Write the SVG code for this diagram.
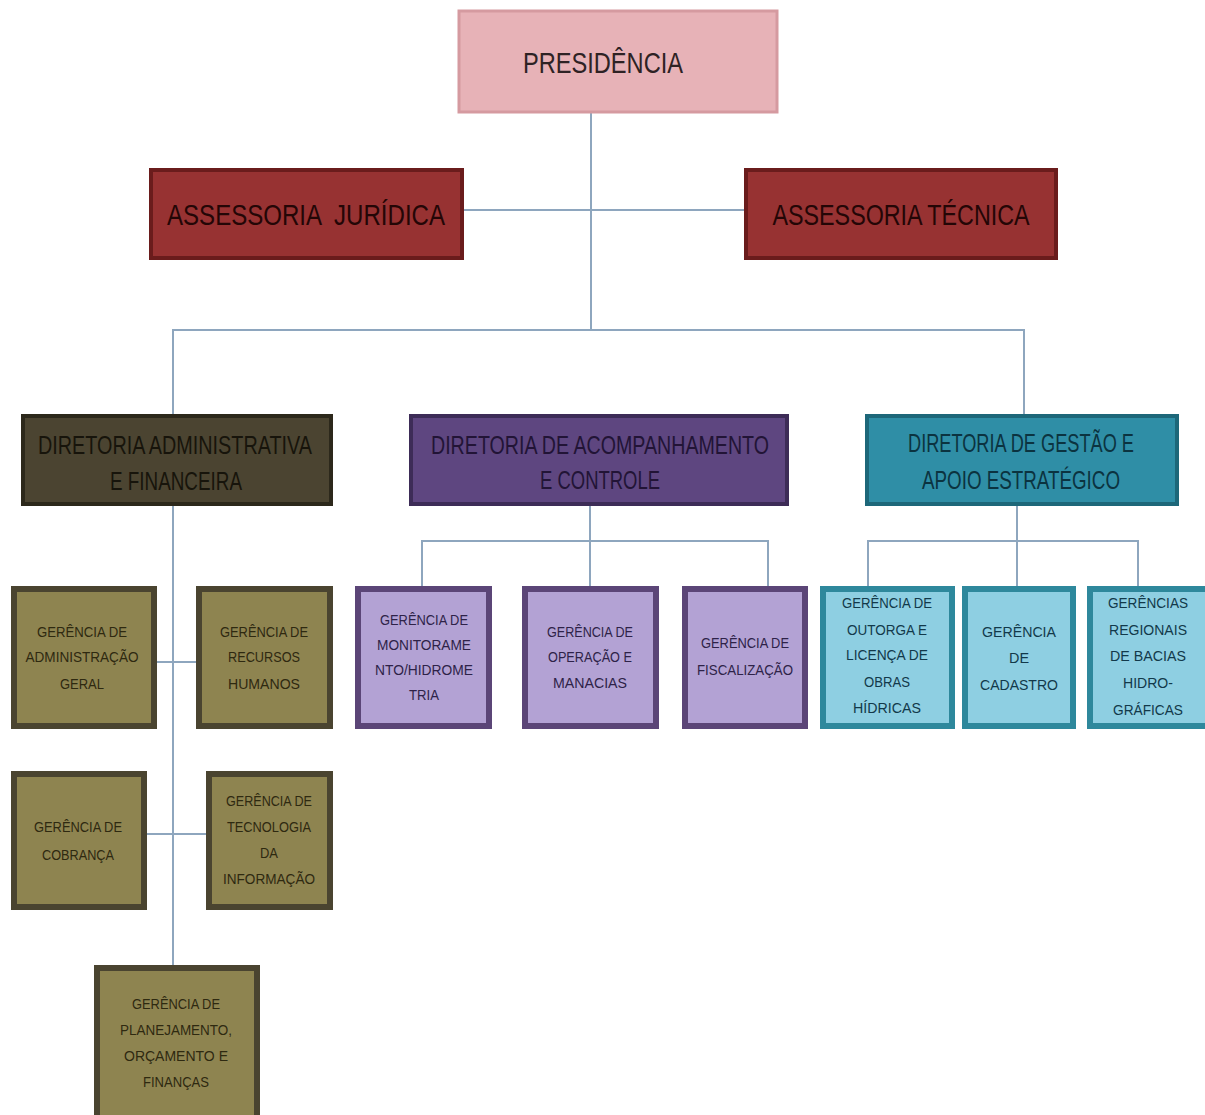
<svg xmlns="http://www.w3.org/2000/svg" width="1205" height="1115" viewBox="0 0 1205 1115">
<style>
text{font-family:"Liberation Sans Narrow","Liberation Sans",Arial,sans-serif;text-anchor:middle}
.con{fill:none;stroke:#8ea6be;stroke-width:2}
.pres{fill:#e7b2b7;stroke:#d59aa0;stroke-width:3}
.ass{fill:#973232;stroke:#6a1c1c;stroke-width:4}
.dadm{fill:#4b4431;stroke:#2c281b;stroke-width:4}
.dacp{fill:#5e4680;stroke:#3d2c57;stroke-width:4}
.dges{fill:#2f8ea6;stroke:#1d6779;stroke-width:4}
.gol{fill:#8e8450;stroke:#4a4430;stroke-width:6}
.gpu{fill:#b3a2d4;stroke:#5b4577;stroke-width:6}
.gbl{fill:#8ecfe2;stroke:#2e889c;stroke-width:6}
.big{font-size:30px}
.dir{font-size:25px}
.sm{font-size:14px}
.tpres{fill:#2e2224}
.tass{fill:#240606}
.tdadm{fill:#17140b}
.tdacp{fill:#221436}
.tdges{fill:#0b3340}
.tol{fill:#2e2910}
.tpu{fill:#2e2248}
.tbl{fill:#12394a}
</style>
<rect width="1205" height="1115" fill="#ffffff"/>
<g id="connectors">
<path class="con" d="M591 113 V330"/>
<path class="con" d="M463 210 H745"/>
<path class="con" d="M173 415 V330 H1024 V415"/>
<path class="con" d="M173 505 V967"/>
<path class="con" d="M155 662 H198"/>
<path class="con" d="M145 834 H207"/>
<path class="con" d="M590 505 V587"/>
<path class="con" d="M422 587 V541 H768 V587"/>
<path class="con" d="M1017 505 V587"/>
<path class="con" d="M868 587 V541 H1138 V587"/>
</g>
<g id="presidencia">
<rect class="pres" x="459" y="11" width="318" height="101"/>
<text class="big tpres" x="603" y="73" textLength="160" lengthAdjust="spacingAndGlyphs">PRESIDÊNCIA</text>
</g>
<g id="assessoria-juridica">
<rect class="ass" x="151" y="170" width="311" height="88"/>
<text class="big tass" x="306" y="225" textLength="278" lengthAdjust="spacingAndGlyphs" xml:space="preserve">ASSESSORIA  JURÍDICA</text>
</g>
<g id="assessoria-tecnica">
<rect class="ass" x="746" y="170" width="310" height="88"/>
<text class="big tass" x="901" y="225" textLength="257" lengthAdjust="spacingAndGlyphs">ASSESSORIA TÉCNICA</text>
</g>
<g id="diretoria-adm">
<rect class="dadm" x="23" y="416" width="308" height="88"/>
<text class="dir tdadm" x="175" y="454" textLength="274" lengthAdjust="spacingAndGlyphs">DIRETORIA ADMINISTRATIVA</text>
<text class="dir tdadm" x="176" y="490" textLength="132" lengthAdjust="spacingAndGlyphs">E FINANCEIRA</text>
</g>
<g id="diretoria-acomp">
<rect class="dacp" x="411" y="416" width="376" height="88"/>
<text class="dir tdacp" x="600" y="454" textLength="338" lengthAdjust="spacingAndGlyphs">DIRETORIA DE ACOMPANHAMENTO</text>
<text class="dir tdacp" x="600" y="489" textLength="120" lengthAdjust="spacingAndGlyphs">E CONTROLE</text>
</g>
<g id="diretoria-gestao">
<rect class="dges" x="867" y="416" width="310" height="88"/>
<text class="dir tdges" x="1021" y="452" textLength="226" lengthAdjust="spacingAndGlyphs">DIRETORIA DE GESTÃO E</text>
<text class="dir tdges" x="1021" y="489" textLength="198" lengthAdjust="spacingAndGlyphs">APOIO ESTRATÉGICO</text>
</g>
<g id="ger-adm-geral">
<rect class="gol" x="14" y="589" width="140" height="137"/>
<text class="sm tol" x="82" y="637" textLength="90" lengthAdjust="spacingAndGlyphs">GERÊNCIA DE</text>
<text class="sm tol" x="82" y="662" textLength="113" lengthAdjust="spacingAndGlyphs">ADMINISTRAÇÃO</text>
<text class="sm tol" x="82" y="689" textLength="44" lengthAdjust="spacingAndGlyphs">GERAL</text>
</g>
<g id="ger-rh">
<rect class="gol" x="199" y="589" width="131" height="137"/>
<text class="sm tol" x="264" y="637" textLength="88" lengthAdjust="spacingAndGlyphs">GERÊNCIA DE</text>
<text class="sm tol" x="264" y="662" textLength="72" lengthAdjust="spacingAndGlyphs">RECURSOS</text>
<text class="sm tol" x="264" y="689" textLength="72" lengthAdjust="spacingAndGlyphs">HUMANOS</text>
</g>
<g id="ger-cobranca">
<rect class="gol" x="14" y="774" width="130" height="133"/>
<text class="sm tol" x="78" y="832" textLength="88" lengthAdjust="spacingAndGlyphs">GERÊNCIA DE</text>
<text class="sm tol" x="78" y="860" textLength="72" lengthAdjust="spacingAndGlyphs">COBRANÇA</text>
</g>
<g id="ger-ti">
<rect class="gol" x="209" y="774" width="121" height="133"/>
<text class="sm tol" x="269" y="806" textLength="86" lengthAdjust="spacingAndGlyphs">GERÊNCIA DE</text>
<text class="sm tol" x="269" y="832" textLength="84" lengthAdjust="spacingAndGlyphs">TECNOLOGIA</text>
<text class="sm tol" x="269" y="858" textLength="18" lengthAdjust="spacingAndGlyphs">DA</text>
<text class="sm tol" x="269" y="884" textLength="92" lengthAdjust="spacingAndGlyphs">INFORMAÇÃO</text>
</g>
<g id="ger-planejamento">
<rect class="gol" x="97" y="968" width="160" height="150"/>
<text class="sm tol" x="176" y="1009" textLength="88" lengthAdjust="spacingAndGlyphs">GERÊNCIA DE</text>
<text class="sm tol" x="176" y="1035" textLength="112" lengthAdjust="spacingAndGlyphs">PLANEJAMENTO,</text>
<text class="sm tol" x="176" y="1061" textLength="104" lengthAdjust="spacingAndGlyphs">ORÇAMENTO E</text>
<text class="sm tol" x="176" y="1087" textLength="66" lengthAdjust="spacingAndGlyphs">FINANÇAS</text>
</g>
<g id="ger-monitoramento">
<rect class="gpu" x="358" y="589" width="131" height="137"/>
<text class="sm tpu" x="424" y="625" textLength="88" lengthAdjust="spacingAndGlyphs">GERÊNCIA DE</text>
<text class="sm tpu" x="424" y="650" textLength="94" lengthAdjust="spacingAndGlyphs">MONITORAME</text>
<text class="sm tpu" x="424" y="675" textLength="98" lengthAdjust="spacingAndGlyphs">NTO/HIDROME</text>
<text class="sm tpu" x="424" y="700" textLength="30" lengthAdjust="spacingAndGlyphs">TRIA</text>
</g>
<g id="ger-operacao">
<rect class="gpu" x="525" y="589" width="131" height="137"/>
<text class="sm tpu" x="590" y="637" textLength="86" lengthAdjust="spacingAndGlyphs">GERÊNCIA DE</text>
<text class="sm tpu" x="590" y="662" textLength="84" lengthAdjust="spacingAndGlyphs">OPERAÇÃO E</text>
<text class="sm tpu" x="590" y="688" textLength="74" lengthAdjust="spacingAndGlyphs">MANACIAS</text>
</g>
<g id="ger-fiscalizacao">
<rect class="gpu" x="685" y="589" width="120" height="137"/>
<text class="sm tpu" x="745" y="648" textLength="88" lengthAdjust="spacingAndGlyphs">GERÊNCIA DE</text>
<text class="sm tpu" x="745" y="675" textLength="96" lengthAdjust="spacingAndGlyphs">FISCALIZAÇÃO</text>
</g>
<g id="ger-outorga">
<rect class="gbl" x="823" y="589" width="129" height="137"/>
<text class="sm tbl" x="887" y="608" textLength="90" lengthAdjust="spacingAndGlyphs">GERÊNCIA DE</text>
<text class="sm tbl" x="887" y="635" textLength="80" lengthAdjust="spacingAndGlyphs">OUTORGA E</text>
<text class="sm tbl" x="887" y="660" textLength="82" lengthAdjust="spacingAndGlyphs">LICENÇA DE</text>
<text class="sm tbl" x="887" y="687" textLength="46" lengthAdjust="spacingAndGlyphs">OBRAS</text>
<text class="sm tbl" x="887" y="713" textLength="68" lengthAdjust="spacingAndGlyphs">HÍDRICAS</text>
</g>
<g id="ger-cadastro">
<rect class="gbl" x="965" y="589" width="108" height="137"/>
<text class="sm tbl" x="1019" y="637" textLength="74" lengthAdjust="spacingAndGlyphs">GERÊNCIA</text>
<text class="sm tbl" x="1019" y="663" textLength="20" lengthAdjust="spacingAndGlyphs">DE</text>
<text class="sm tbl" x="1019" y="690" textLength="78" lengthAdjust="spacingAndGlyphs">CADASTRO</text>
</g>
<g id="ger-regionais">
<rect class="gbl" x="1090" y="589" width="118" height="137"/>
<text class="sm tbl" x="1148" y="608" textLength="80" lengthAdjust="spacingAndGlyphs">GERÊNCIAS</text>
<text class="sm tbl" x="1148" y="635" textLength="78" lengthAdjust="spacingAndGlyphs">REGIONAIS</text>
<text class="sm tbl" x="1148" y="661" textLength="76" lengthAdjust="spacingAndGlyphs">DE BACIAS</text>
<text class="sm tbl" x="1148" y="688" textLength="50" lengthAdjust="spacingAndGlyphs">HIDRO-</text>
<text class="sm tbl" x="1148" y="715" textLength="70" lengthAdjust="spacingAndGlyphs">GRÁFICAS</text>
</g>
</svg>
